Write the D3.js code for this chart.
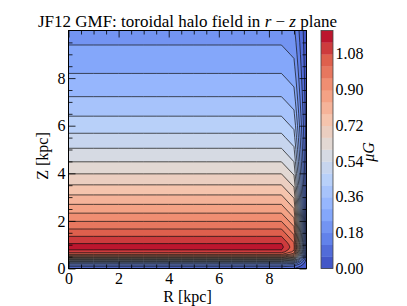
<!DOCTYPE html>
<html>
<head>
<meta charset="utf-8">
<script src="https://cdn.jsdelivr.net/npm/d3@7"></script>
<style>
  body { margin: 0; background: #fff; }
  svg text { font-family: "Liberation Serif", "DejaVu Serif", serif; fill: #000; }
</style>
</head>
<body>
<div id="chart"></div>
<script>
// ==================== DATA ====================
// radial sample points [kpc] and radial fall-off of the field
const rGrid = [0, 0.5, 1, 1.5, 2, 2.5, 3, 3.5, 4, 4.5, 5, 5.5, 6, 6.5, 7, 7.5, 8, 8.5, 9, 9.5];
const rFactor = [1, 1, 1, 1, 1, 1, 1, 1, 1, 1, 1, 1, 1, 1, 1, 1, 1, 1, 0.9, 0.057];

// vertical sample points [kpc] and field strength [muG]
const zGrid = [0, 0.1, 0.2, 0.3, 0.4, 0.5, 0.6, 0.7, 0.8, 0.9, 1, 1.1, 1.2, 1.5, 2, 2.5, 3, 3.5,
  4, 4.5, 5, 5.5, 6, 6.5, 7, 7.5, 8, 8.5, 9, 9.5, 10];
const zProfile = [0.07, 0.135, 0.25, 0.43, 0.65, 0.87, 1.03, 1.11, 1.145, 1.158, 1.148, 1.131, 1.11,
  1.05, 0.956, 0.87, 0.793, 0.722, 0.657, 0.598, 0.545, 0.496, 0.452, 0.412, 0.375, 0.341,
  0.311, 0.283, 0.258, 0.235, 0.214];

const levels = [0, 0.06, 0.12, 0.18, 0.24, 0.3, 0.36, 0.42, 0.48, 0.54, 0.6, 0.66, 0.72, 0.78,
  0.84, 0.9, 0.96, 1.02, 1.08, 1.14, 1.2];
const cbTicks = [0, 0.18, 0.36, 0.54, 0.72, 0.9, 1.08];
const xTicks = [0, 2, 4, 6, 8];
const yTicks = [0, 2, 4, 6, 8];
const xMinor = [0.5, 1, 1.5, 2.5, 3, 3.5, 4.5, 5, 5.5, 6.5, 7, 7.5, 8.5, 9];
const yMinor = [0.5, 1, 1.5, 2.5, 3, 3.5, 4.5, 5, 5.5, 6.5, 7, 7.5, 8.5, 9, 9.5];

// coolwarm colormap anchors
const coolwarm = ["#3b4cc0", "#6282ea", "#8db0fe", "#b8d0f9", "#dddddd",
  "#f5c4ad", "#f49a7b", "#de604d", "#b40426"];

// ==================== LAYOUT ====================
const W = 407, H = 306;
const plot = { left: 68.5, right: 306.5, top: 30.5, bottom: 268.5 };
const cb = { left: 321, right: 333, top: 30.5, bottom: 268.5 };

const svg = d3.select("#chart").append("svg")
  .attr("width", W).attr("height", H);

const x = d3.scaleLinear().domain([0, 9.5]).range([plot.left, plot.right]);
const y = d3.scaleLinear().domain([0, 10]).range([plot.bottom, plot.top]);

const cmap = d3.piecewise(d3.interpolateRgb, coolwarm);
const vmax = levels[levels.length - 1];
const bandColor = (k) => cmap((levels[k] + levels[k + 1]) / 2 / vmax);

// ==================== CONTOURS ====================
const nx = rGrid.length, ny = zGrid.length;
const values = new Array(nx * ny);
for (let j = 0; j < ny; j++) {
  for (let i = 0; i < nx; i++) {
    values[j * nx + i] = zProfile[j] * rFactor[i];
  }
}

// grid index -> data coordinates (sample k sits at k + 0.5 in d3.contours space)
const ix = d3.scaleLinear().domain(rGrid.map((d, i) => i + 0.5)).range(rGrid);
const iz = d3.scaleLinear().domain(zGrid.map((d, j) => j + 0.5)).range(zGrid);
const proj = d3.geoTransform({
  point(px, py) { this.stream.point(x(ix(px)), y(iz(py))); }
});
const path = d3.geoPath(proj);

const contours = d3.contours().size([nx, ny]).thresholds(levels)(values);

svg.append("clipPath").attr("id", "clip")
  .append("rect")
  .attr("x", plot.left).attr("y", plot.top)
  .attr("width", plot.right - plot.left).attr("height", plot.bottom - plot.top);

const gPlot = svg.append("g").attr("clip-path", "url(#clip)");

gPlot.selectAll("path.fill")
  .data(contours.slice(0, levels.length - 1))
  .join("path")
  .attr("class", "fill")
  .attr("d", path)
  .attr("fill", (d, k) => bandColor(k))
  .attr("stroke", (d, k) => bandColor(k))
  .attr("stroke-width", 0.3);

gPlot.selectAll("path.line")
  .data(contours.slice(1, levels.length - 1))
  .join("path")
  .attr("class", "line")
  .attr("d", path)
  .attr("fill", "none")
  .attr("stroke", "#111")
  .attr("stroke-width", 0.7);

// ==================== AXES ====================
function styleAxis(g) {
  g.select(".domain").remove();
  g.selectAll("line").attr("stroke", "#000").attr("stroke-width", 0.8);
  g.selectAll("text").style("font-size", "16px").attr("fill", "#000");
}

// bottom
svg.append("g").attr("transform", `translate(0,${plot.bottom})`)
  .call(d3.axisBottom(x).tickValues(xTicks).tickFormat(d3.format("d")).tickSize(-7).tickPadding(4.5))
  .call(styleAxis);
svg.append("g").attr("transform", `translate(0,${plot.bottom})`)
  .call(d3.axisBottom(x).tickValues(xMinor).tickFormat("").tickSize(-4))
  .call(styleAxis);
// top
svg.append("g").attr("transform", `translate(0,${plot.top})`)
  .call(d3.axisTop(x).tickValues(xTicks).tickFormat("").tickSize(-7))
  .call(styleAxis);
svg.append("g").attr("transform", `translate(0,${plot.top})`)
  .call(d3.axisTop(x).tickValues(xMinor).tickFormat("").tickSize(-4))
  .call(styleAxis);
// left
svg.append("g").attr("transform", `translate(${plot.left},0)`)
  .call(d3.axisLeft(y).tickValues(yTicks).tickFormat(d3.format("d")).tickSize(-7).tickPadding(3))
  .call(styleAxis);
svg.append("g").attr("transform", `translate(${plot.left},0)`)
  .call(d3.axisLeft(y).tickValues(yMinor).tickFormat("").tickSize(-4))
  .call(styleAxis);
// right
svg.append("g").attr("transform", `translate(${plot.right},0)`)
  .call(d3.axisRight(y).tickValues(yTicks).tickFormat("").tickSize(-7))
  .call(styleAxis);
svg.append("g").attr("transform", `translate(${plot.right},0)`)
  .call(d3.axisRight(y).tickValues(yMinor).tickFormat("").tickSize(-4))
  .call(styleAxis);

svg.append("rect")
  .attr("x", plot.left).attr("y", plot.top)
  .attr("width", plot.right - plot.left).attr("height", plot.bottom - plot.top)
  .attr("fill", "none").attr("stroke", "#000").attr("stroke-width", 1);

// labels
svg.append("text")
  .attr("x", (plot.left + plot.right) / 2).attr("y", 301.5)
  .attr("text-anchor", "middle").style("font-size", "16px")
  .text("R [kpc]");

svg.append("text")
  .attr("transform", "translate(48,156) rotate(-90)")
  .attr("text-anchor", "middle").style("font-size", "16px")
  .text("Z [kpc]");

const title = svg.append("text")
  .attr("x", (plot.left + plot.right) / 2).attr("y", 26.5)
  .attr("text-anchor", "middle").style("font-size", "17px");
title.append("tspan").text("JF12 GMF: toroidal halo field in ");
title.append("tspan").style("font-style", "italic").text("r");
title.append("tspan").text(" \u2212 ");
title.append("tspan").style("font-style", "italic").text("z");
title.append("tspan").text(" plane");

// ==================== COLORBAR ====================
const cbY = d3.scaleLinear().domain([0, vmax]).range([cb.bottom, cb.top]);

svg.append("g").selectAll("rect")
  .data(d3.range(levels.length - 1))
  .join("rect")
  .attr("x", cb.left)
  .attr("width", cb.right - cb.left)
  .attr("y", (k) => cbY(levels[k + 1]))
  .attr("height", (k) => cbY(levels[k]) - cbY(levels[k + 1]) + 0.3)
  .attr("fill", (k) => bandColor(k));

svg.append("rect")
  .attr("x", cb.left).attr("y", cb.top)
  .attr("width", cb.right - cb.left).attr("height", cb.bottom - cb.top)
  .attr("fill", "none").attr("stroke", "#444").attr("stroke-width", 0.8);

svg.append("g").selectAll("text")
  .data(cbTicks)
  .join("text")
  .attr("x", cb.right + 2.5)
  .attr("y", (d) => cbY(d))
  .attr("dy", "0.32em")
  .style("font-size", "16px")
  .text((d) => d3.format(".2f")(d));

svg.append("text")
  .attr("transform", "translate(374,152) rotate(-90)")
  .attr("text-anchor", "middle")
  .style("font-size", "16px")
  .style("font-style", "italic")
  .text("\u03bcG");
</script>
</body>
</html>
